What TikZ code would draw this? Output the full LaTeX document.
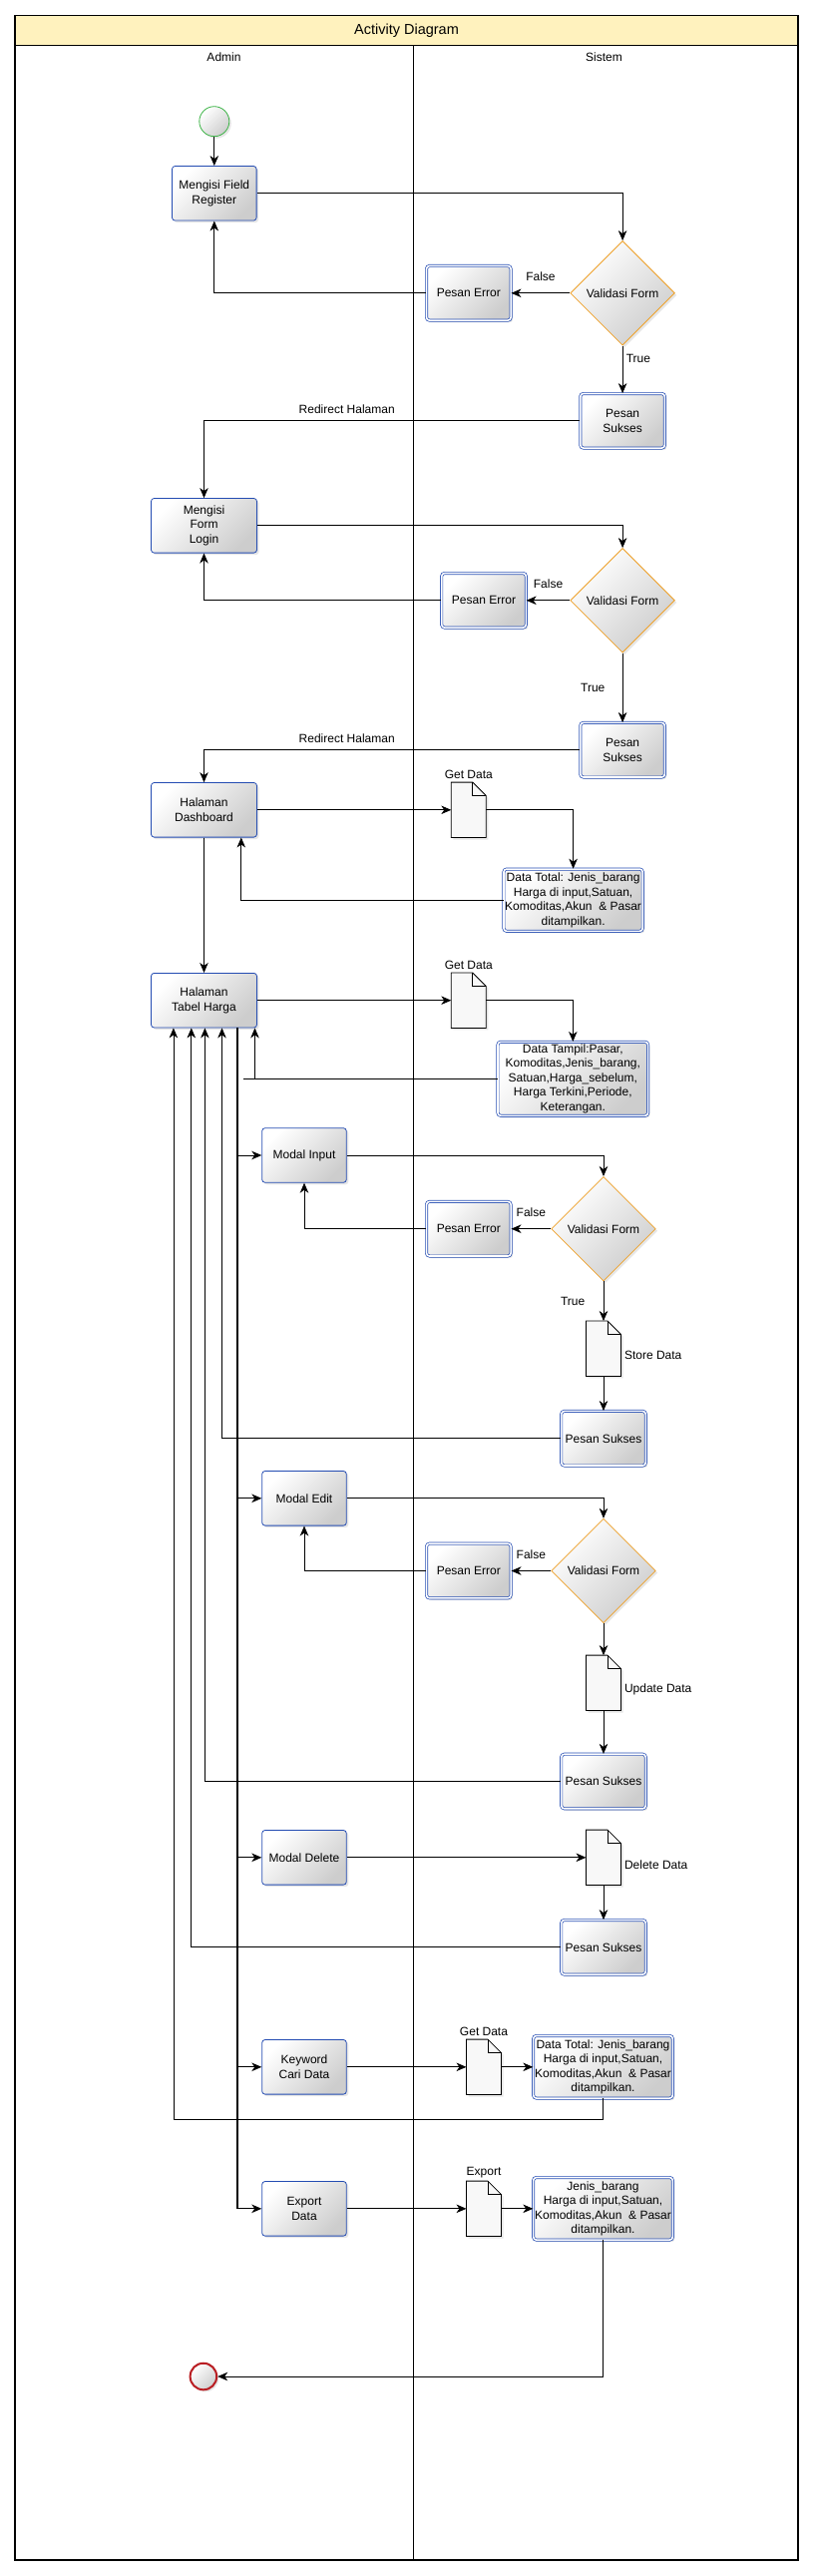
\documentclass[tikz,border=0pt]{standalone}
\usepackage{fontspec}
\setmainfont{Liberation Sans}
\usepackage{tikz}
\usetikzlibrary{shapes.geometric, arrows.meta, shadows}

\definecolor{boxblue}{RGB}{36,76,178}
\definecolor{decorange}{RGB}{238,160,40}
\definecolor{startgreen}{RGB}{60,180,70}
\definecolor{endred}{RGB}{185,30,35}
\definecolor{titlefill}{RGB}{255,242,190}
\definecolor{shadegray}{RGB}{205,205,205}
\definecolor{docfill}{RGB}{248,248,248}

\begin{document}
\begin{tikzpicture}[
    x=1pt, y=-1pt,
    every node/.style={font=\fontsize{12}{14.5}\selectfont},
    gshade/.style={top color=white, bottom color=shadegray, shading angle=45,
                   drop shadow={opacity=0.2, shadow xshift=2pt, shadow yshift=-2pt}},
    act/.style={gshade, draw=boxblue, line width=0.8pt, rounded corners=3pt,
                minimum width=84.6pt, minimum height=54.6pt, align=center, inner sep=1pt},
    msg/.style={act, double=white, double distance=1.6pt, line width=0.7pt},
    dec/.style={diamond, gshade, draw=decorange, line width=0.8pt,
                minimum width=104.6pt, minimum height=104.6pt, inner sep=0pt},
    doc/.style={minimum width=34.6pt, minimum height=55pt, inner sep=0pt},
    startnode/.style={circle, gshade, draw=startgreen, line width=0.8pt,
                minimum size=30pt, inner sep=0pt},
    endnode/.style={circle, gshade, draw=endred, line width=2pt,
                minimum size=26.6pt, inner sep=0pt},
    arrow/.style={-{Stealth[length=10pt, width=8.5pt, inset=3pt]}, line width=0.8pt},
    wire/.style={line width=0.8pt}
]
\useasboundingbox (0,0) rectangle (815,2582);

% --- Frame and lanes ---
\fill[titlefill] (15,15.3) rectangle (800,45.3);
\draw[line width=1.2pt] (15,15.3) rectangle (800,2566);
\draw[line width=0.8pt] (15,45.3) -- (800,45.3);
\draw[line width=0.6pt] (414,45.3) -- (414,2566);
\node[font=\fontsize{14.5}{17}\selectfont] (title) at (407.5,30.3) {Activity Diagram};
\node (admin) at (224.5,57) {Admin};
\node (sistem) at (605.5,57) {Sistem};

% --- Admin lane ---
\node[startnode] (start) at (214.8,121.7) {};
\node[act] (reg) at (214.8,193.8) {Mengisi Field\\Register};
\node[act, minimum width=106pt] (login) at (204.5,526.8) {Mengisi\\Form\\Login};
\node[act, minimum width=106pt] (dash) at (204.5,811.8) {Halaman\\Dashboard};
\node[act, minimum width=106pt] (harga) at (204.5,1002.7) {Halaman\\Tabel Harga};
\node[act] (inp) at (305,1158) {Modal Input};
\node[act] (edt) at (305,1501.8) {Modal Edit};
\node[act] (del) at (305,1861.8) {Modal Delete};
\node[act] (cari) at (305,2071.8) {Keyword\\Cari Data};
\node[act] (exp) at (305,2213.8) {Export\\Data};
\node[endnode] (finish) at (203.9,2382) {};

% --- Sistem lane ---
\node[dec] (dec1) at (624.1,293.8) {Validasi Form};
\node[msg] (err1) at (469.8,293.8) {Pesan Error};
\node[msg] (ok1) at (624.1,421.8) {Pesan\\Sukses};
\node[dec] (dec2) at (624.1,601.8) {Validasi Form};
\node[msg] (err2) at (485,601.8) {Pesan Error};
\node[msg] (ok2) at (624.1,751.7) {Pesan\\Sukses};

\node[doc, label=above:Get Data] (doc1) at (469.8,811.8) {};
\node[msg, minimum width=139.3pt, minimum height=62.3pt] (data1) at (574.6,902.2)
    {Data Total: Jenis\_barang\\Harga di input,Satuan,\\Komoditas,Akun\ \ \& Pasar\\ditampilkan.};
\node[doc, label=above:Get Data] (doc2) at (469.8,1002.7) {};
\node[msg, minimum width=150.7pt, minimum height=74pt] (tampil) at (574.3,1081.3)
    {Data Tampil:Pasar,\\Komoditas,Jenis\_barang,\\Satuan,Harga\_sebelum,\\Harga Terkini,Periode,\\Keterangan.};

\node[dec] (dec3) at (605,1231.7) {Validasi Form};
\node[msg] (err3) at (469.8,1231.7) {Pesan Error};
\node[doc, label={[yshift=-7pt]right:Store Data}] (doc3) at (605,1351.7) {};
\node[msg] (ok3) at (605,1441.7) {Pesan Sukses};

\node[dec] (dec4) at (605,1574.5) {Validasi Form};
\node[msg] (err4) at (469.8,1574.5) {Pesan Error};
\node[doc, label={[yshift=-7pt]right:Update Data}] (doc4) at (605,1686.8) {};
\node[msg] (ok4) at (605,1785.5) {Pesan Sukses};

\node[doc, label={[yshift=-7pt]right:Delete Data}] (doc5) at (605,1861.8) {};
\node[msg] (ok5) at (605,1951.8) {Pesan Sukses};

\node[doc, label=above:Get Data] (doc6) at (485,2071.8) {};
\node[msg, minimum width=139.7pt, minimum height=62.6pt] (data3) at (604.5,2071.8)
    {Data Total: Jenis\_barang\\Harga di input,Satuan,\\Komoditas,Akun\ \ \& Pasar\\ditampilkan.};
\node[doc, label=above:Export] (doc7) at (485,2213.8) {};
\node[msg, minimum width=139.7pt, minimum height=62.6pt] (data4) at (604.5,2213.8)
    {Jenis\_barang\\Harga di input,Satuan,\\Komoditas,Akun\ \ \& Pasar\\ditampilkan.};

% document shapes with folded corner
\foreach \d in {doc1,doc2,doc3,doc4,doc5,doc6,doc7} {
  \filldraw[fill=docfill, line width=0.8pt,
            drop shadow={opacity=0.2, shadow xshift=2pt, shadow yshift=-2pt}]
    (\d.north west) -- ([xshift=-13.5pt]\d.north east) -- ([yshift=-13.5pt]\d.north east)
    -- (\d.south east) -- (\d.south west) -- cycle;
  \draw[line width=0.8pt] ([xshift=-13.5pt]\d.north east) |- ([yshift=-13.5pt]\d.north east);
}

% --- Register ---
\draw[arrow] (start) -- (reg);
\draw[arrow] (reg.east) -| (dec1.north);
\draw[arrow] (dec1.west) -- node[above=8pt]{False} (err1.east);
\draw[arrow] (err1.west) -| (reg.south);
\draw[arrow] (dec1.south) -- node[pos=0.28, right]{True} (ok1.north);
\draw[arrow] (ok1.west) -| node[pos=0.31, above=3pt]{Redirect Halaman} (login.north);

% --- Login ---
\draw[arrow] (login.east) -| (dec2.north);
\draw[arrow] (dec2.west) -- node[above=8pt]{False} (err2.east);
\draw[arrow] (err2.west) -| (login.south);
\draw[arrow] (dec2.south) -- node[left=14pt]{True} (ok2.north);
\draw[arrow] (ok2.west) -| node[pos=0.31, above=3pt]{Redirect Halaman} (dash.north);

% --- Dashboard ---
\draw[arrow] (dash.east) -- (doc1.west);
\draw[arrow] (doc1.east) -| (data1.north);
\draw[arrow] (data1.west) -| ([xshift=37.3pt]dash.south);
\draw[arrow] (dash.south) -- (harga.north);

% --- Tabel Harga ---
\coordinate (stub) at (244.3,1081.3);
\draw[arrow] (harga.east) -- (doc2.west);
\draw[arrow] (doc2.east) -| (tampil.north);
\draw[arrow] (tampil.west) -| ([xshift=51pt]harga.south);
\draw[wire] (tampil.west) -- (stub);

\coordinate (trunk) at ([xshift=33.4pt]harga.south);
\draw[arrow, line width=1.2pt] (trunk) |- (exp.west);
\foreach \m in {inp,edt,del,cari}
  \draw[arrow] (trunk |- \m.west) -- (\m.west);

% --- Modal Input ---
\draw[arrow] (inp.east) -| (dec3.north);
\draw[arrow] (dec3.west) -- node[above=8pt]{False} (err3.east);
\draw[arrow] (err3.west) -| (inp.south);
\draw[arrow] (dec3.south) -- node[left=15pt]{True} (doc3.north);
\draw[arrow] (doc3.south) -- (ok3.north);
\draw[arrow] (ok3.west) -| ([xshift=18pt]harga.south);

% --- Modal Edit ---
\draw[arrow] (edt.east) -| (dec4.north);
\draw[arrow] (dec4.west) -- node[above=8pt]{False} (err4.east);
\draw[arrow] (err4.west) -| (edt.south);
\draw[arrow] (dec4.south) -- (doc4.north);
\draw[arrow] (doc4.south) -- (ok4.north);
\draw[arrow] (ok4.west) -| ([xshift=0.9pt]harga.south);

% --- Modal Delete ---
\draw[arrow] (del.east) -- (doc5.west);
\draw[arrow] (doc5.south) -- (ok5.north);
\draw[arrow] (ok5.west) -| ([xshift=-12.7pt]harga.south);

% --- Cari Data ---
\draw[arrow] (cari.east) -- (doc6.west);
\draw[arrow] (doc6.east) -- (data3.west);
\draw[arrow] (data3.south) -- ++(0,21) -| ([xshift=-30.6pt]harga.south);

% --- Export ---
\draw[arrow] (exp.east) -- (doc7.west);
\draw[arrow] (doc7.east) -- (data4.west);
\draw[arrow] (data4.south) |- (finish.east);

\end{tikzpicture}
\end{document}
